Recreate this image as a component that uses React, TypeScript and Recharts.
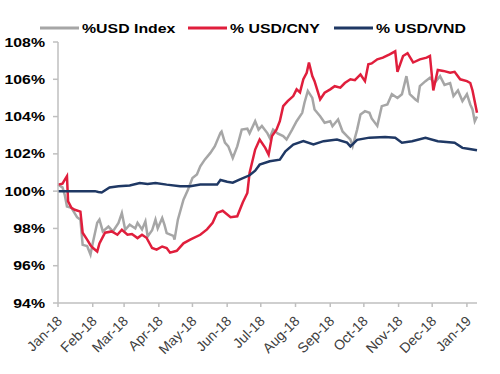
import { LineChart, Line, XAxis, YAxis } from "recharts";

// days since 1 Jan 2018
const monthTicks = [0, 31, 59, 90, 120, 151, 181, 212, 243, 273, 304, 334, 365];
const monthLabels = [
  "Jan-18", "Feb-18", "Mar-18", "Apr-18", "May-18", "Jun-18", "Jul-18",
  "Aug-18", "Sep-18", "Oct-18", "Nov-18", "Dec-18", "Jan-19",
];
const yTicks = [94, 96, 98, 100, 102, 104, 106, 108];

const usdDays = [0, 4, 6, 8, 12, 17, 20, 22, 26, 29, 31, 35, 37, 40, 45, 49, 54, 57, 60, 64, 69, 71, 75, 78, 80, 84, 87, 89, 93, 95, 97, 103, 104, 107, 112, 116, 120, 124, 127, 131, 136, 140, 145, 146, 149, 152, 156, 160, 164, 169, 171, 176, 179, 182, 187, 189, 192, 196, 201, 204, 209, 213, 218, 220, 223, 227, 229, 234, 238, 243, 245, 250, 254, 258, 261, 263, 267, 270, 274, 278, 280, 285, 289, 294, 298, 303, 307, 311, 314, 319, 321, 323, 328, 332, 336, 341, 345, 350, 353, 357, 361, 365, 368, 370, 372, 374];
const usdValues = [100.35, 100.2, 99.8, 99.18, 99.1, 98.6, 98.47, 97.12, 97.05, 96.6, 97.2, 98.3, 98.47, 97.84, 98.1, 97.84, 98.3, 98.83, 97.93, 98.2, 98.0, 98.3, 97.95, 98.38, 97.57, 97.9, 98.47, 98.0, 98.56, 98.2, 97.75, 97.6, 97.4, 98.47, 99.54, 100.08, 100.7, 100.89, 101.33, 101.69, 102.05, 102.41, 103.13, 103.2, 102.6, 102.4, 101.78, 102.4, 103.3, 103.35, 103.1, 103.75, 103.3, 103.5, 103.1, 102.85, 103.3, 103.1, 102.95, 102.77, 103.3, 103.75, 104.2, 104.74, 105.37, 105.0, 104.38, 104.02, 103.67, 103.75, 103.48, 103.84, 103.2, 102.95, 102.77, 102.41, 103.3, 104.11, 104.29, 104.2, 103.9, 103.5, 104.56, 104.65, 105.2, 105.0, 105.2, 106.17, 105.2, 104.92, 104.83, 105.63, 105.9, 106.08, 105.8, 106.17, 105.7, 105.8, 105.1, 105.4, 104.83, 105.2, 104.65, 104.38, 103.75, 104.0];

const cnyDays = [0, 4, 6, 8, 9, 12, 15, 20, 22, 26, 29, 31, 35, 37, 42, 48, 53, 57, 62, 66, 71, 75, 79, 84, 88, 93, 97, 100, 106, 112, 118, 127, 133, 138, 142, 147, 154, 160, 165, 169, 171, 176, 180, 185, 188, 191, 195, 198, 201, 205, 210, 213, 216, 219, 222, 224, 227, 229, 234, 238, 243, 247, 252, 256, 261, 265, 270, 274, 277, 280, 285, 290, 296, 301, 303, 308, 312, 317, 323, 329, 332, 335, 339, 344, 350, 354, 359, 365, 368, 370, 374];
const cnyValues = [100.35, 100.4, 100.6, 100.8, 99.45, 99.1, 99.0, 98.9, 97.77, 97.4, 97.1, 96.96, 96.76, 97.2, 97.77, 97.84, 97.66, 97.93, 97.66, 97.7, 97.48, 97.66, 97.5, 96.95, 96.86, 97.03, 96.95, 96.7, 96.8, 97.2, 97.4, 97.66, 97.95, 98.3, 98.83, 98.95, 98.6, 98.65, 99.4, 99.9, 100.98, 102.23, 102.77, 102.32, 101.96, 102.95, 103.3, 103.75, 104.56, 104.83, 105.1, 105.46, 105.3, 106.0, 106.35, 106.9, 106.17, 105.9, 104.92, 105.28, 105.46, 105.63, 105.55, 105.8, 106.0, 105.95, 106.26, 105.9, 106.8, 106.85, 107.07, 107.16, 107.34, 107.5, 106.4, 107.25, 107.4, 106.9, 107.07, 107.16, 107.25, 105.4, 106.5, 106.45, 106.35, 106.4, 106.0, 105.9, 105.8, 105.4, 104.2];

const vndDays = [0, 20, 33, 36, 39, 46, 54, 64, 73, 80, 87, 97, 109, 118, 127, 142, 145, 151, 156, 162, 171, 176, 180, 189, 198, 203, 210, 219, 228, 237, 249, 258, 261, 267, 278, 292, 301, 307, 316, 328, 339, 354, 361, 366, 374];
const vndValues = [100.0, 100.0, 100.0, 99.95, 99.93, 100.2, 100.26, 100.3, 100.44, 100.38, 100.44, 100.35, 100.26, 100.26, 100.35, 100.35, 100.6, 100.5, 100.45, 100.62, 100.85, 101.1, 101.42, 101.6, 101.69, 102.14, 102.5, 102.68, 102.5, 102.68, 102.77, 102.6, 102.4, 102.75, 102.87, 102.9, 102.86, 102.6, 102.68, 102.86, 102.68, 102.6, 102.32, 102.27, 102.19];

const FONT = "'Liberation Sans', Arial, sans-serif";
const GRAY = "#a6a6a6";
const RED = "#e01e3c";
const NAVY = "#1f3864";
const AXIS = "#bfbfbf";

const rows = (days: number[], vals: number[]) => days.map((d, i) => ({ day: d, v: vals[i] }));
const usdData = rows(usdDays, usdValues);
const cnyData = rows(cnyDays, cnyValues);
const vndData = rows(vndDays, vndValues);

const legendItems = [
  { name: "%USD Index", color: GRAY, x: 40 },
  { name: "% USD/CNY", color: RED, x: 188 },
  { name: "% USD/VND", color: NAVY, x: 334 },
];

function YTick({ x, y, payload }: any) {
  return (
    <text
      transform={`translate(${x},${y + 4.5}) scale(1.22,1)`}
      textAnchor="end"
      fontFamily={FONT}
      fontWeight="bold"
      fontSize={13}
      fill="#000"
    >
      {`${payload.value}%`}
    </text>
  );
}

function XTick({ x, y, payload }: any) {
  const label = monthLabels[monthTicks.indexOf(payload.value)];
  return (
    <text
      transform={`translate(${x + 5},${y + 13}) rotate(-45)`}
      textAnchor="end"
      fontFamily={FONT}
      fontSize={14}
      fill="#404040"
    >
      {label}
    </text>
  );
}

export default function App() {
  return (
    <div style={{ position: "absolute", left: 0, top: 0, width: 500, height: 374, background: "#fff" }}>
      <svg width={500} height={40} style={{ position: "absolute", left: 0, top: 0 }}>
        {legendItems.map((it) => (
          <g key={it.name}>
            <line x1={it.x} x2={it.x + 39} y1={28} y2={28} stroke={it.color} strokeWidth={3} />
            <text
              transform={`translate(${it.x + 42},33) scale(1.22,1)`}
              fontFamily={FONT}
              fontWeight="bold"
              fontSize={13}
              fill="#000"
            >
              {it.name}
            </text>
          </g>
        ))}
      </svg>
      <LineChart width={500} height={374} margin={{ top: 42, right: 23, bottom: 0, left: 0 }}>
        <XAxis
          dataKey="day"
          type="number"
          domain={[0, 374]}
          ticks={monthTicks}
          interval={0}
          height={71}
          axisLine={{ stroke: AXIS, strokeWidth: 1.5 }}
          tickLine={{ stroke: AXIS, strokeWidth: 1.5 }}
          tickSize={4}
          tickMargin={2}
          tick={<XTick />}
          allowDuplicatedCategory={false}
        />
        <YAxis
          type="number"
          domain={[94, 108]}
          ticks={yTicks}
          interval={0}
          width={58}
          axisLine={{ stroke: AXIS, strokeWidth: 1.5 }}
          tickLine={{ stroke: AXIS, strokeWidth: 1.5 }}
          tickSize={5}
          tickMargin={8}
          tick={<YTick />}
        />
        <Line data={usdData} dataKey="v" type="linear" stroke={GRAY} strokeWidth={2.5} dot={false} isAnimationActive={false} />
        <Line data={cnyData} dataKey="v" type="linear" stroke={RED} strokeWidth={2.5} dot={false} isAnimationActive={false} />
        <Line data={vndData} dataKey="v" type="linear" stroke={NAVY} strokeWidth={2.5} dot={false} isAnimationActive={false} />
      </LineChart>
    </div>
  );
}
